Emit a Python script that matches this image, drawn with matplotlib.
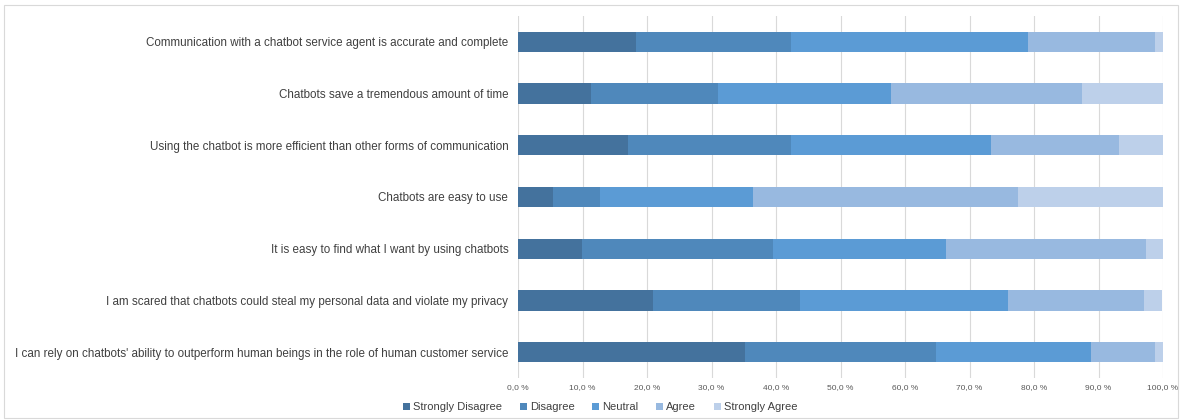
import matplotlib.pyplot as plt
import numpy as np
from matplotlib.patches import Rectangle

plt.rcParams['font.family'] = ['Liberation Sans', 'DejaVu Sans']

# statements, bottom to top
statements = [
    "I can rely on chatbots' ability to outperform human beings in the role of human customer service",
    "I am scared that chatbots could steal my personal data and violate my privacy",
    "It is easy to find what I want by using chatbots",
    "Chatbots are easy to use",
    "Using the chatbot is more efficient than other forms of communication",
    "Chatbots save a tremendous amount of time",
    "Communication with a chatbot service agent is accurate and complete",
]

# percentages per answer, same order as statements
strongly_disagree = [35.2, 21.0, 9.9, 5.5, 17.0, 11.3, 18.3]
disagree = [29.6, 22.7, 29.6, 7.2, 25.3, 19.7, 24.0]
neutral = [24.1, 32.3, 26.8, 23.8, 31.0, 26.9, 36.7]
agree = [9.8, 21.1, 31.1, 41.0, 19.8, 29.6, 19.7]
strongly_agree = [1.3, 2.8, 2.6, 22.5, 6.9, 12.5, 1.3]

answers = ["Strongly Disagree", "Disagree", "Neutral", "Agree", "Strongly Agree"]
colors = ["#44729d", "#4f88bb", "#5b9bd5", "#98b9e0", "#bdd0ea"]

fig = plt.figure(figsize=(11.84, 4.2), dpi=100)
ax = fig.add_axes([0.4375, 0.1, 0.5448, 0.862])

y = np.arange(len(statements))
left = np.zeros(len(statements))
for name, vals, c in zip(answers, [strongly_disagree, disagree, neutral, agree, strongly_agree], colors):
    ax.barh(y, vals, left=left, height=0.39, color=c, label=name, zorder=3)
    left += np.array(vals)

ax.set_xlim(0, 100)
ax.set_ylim(-0.5, len(statements) - 0.5)
ax.set_yticks(y)
ax.set_yticklabels(statements, fontsize=8.4, color="#404040")
ticks = np.arange(0, 101, 10)
ax.set_xticks(ticks)
ax.set_xticklabels([f"{t:.1f} %".replace(".", ",") for t in ticks], fontsize=6, color="#595959")
ax.grid(axis="x", color="#d9d9d9", linewidth=0.8, zorder=0)
for s in ax.spines.values():
    s.set_visible(False)
ax.tick_params(axis="both", length=0)
ax.tick_params(axis="y", pad=7)
ax.tick_params(axis="x", pad=4)

fig.legend(loc="lower center", bbox_to_anchor=(0.507, -0.005), ncol=5, frameon=False,
           fontsize=8, handlelength=0.6, handleheight=0.6, handletextpad=0.3,
           columnspacing=1.6, labelcolor="#404040")

# thin chart border
fig.patches.append(Rectangle((4 / 1184, 2 / 420), 1174 / 1184, 413 / 420,
                             transform=fig.transFigure, fill=False,
                             edgecolor="#d9d9d9", linewidth=0.8))

fig.savefig("out.png", dpi=100)
